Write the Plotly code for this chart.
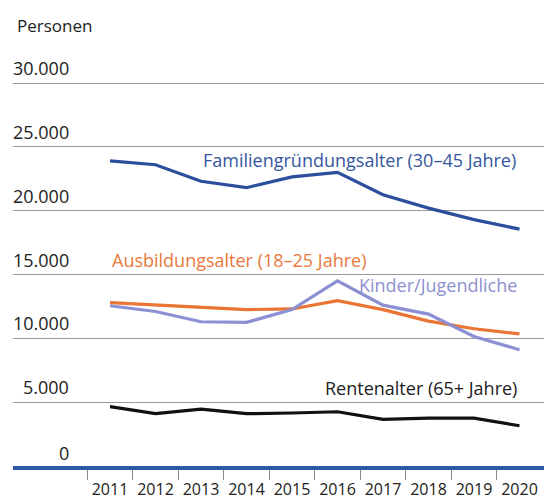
import plotly.graph_objects as go

years = [2011, 2012, 2013, 2014, 2015, 2016, 2017, 2018, 2019, 2020]
familien = [23900, 23600, 22300, 21800, 22650, 23000, 21250, 20200, 19300, 18550]
ausbildung = [12800, 12600, 12400, 12250, 12300, 12950, 12250, 11350, 10750, 10350]
kinder = [12550, 12100, 11300, 11250, 12250, 14500, 12600, 11900, 10150, 9100]
rente = [4650, 4100, 4450, 4100, 4150, 4250, 3650, 3750, 3750, 3150]

ytick_vals = [0, 5000, 10000, 15000, 20000, 25000, 30000]
ytick_text = ["0", "5.000", "10.000", "15.000", "20.000", "25.000", "30.000"]
xtick_text = [str(y) for y in years]
minor_ticks = [y - 0.5 for y in years]

series = [
    ("Familiengründungsalter (30–45 Jahre)", familien, "#2b4f9c"),
    ("Ausbildungsalter (18–25 Jahre)", ausbildung, "#ea7433"),
    ("Kinder/Jugendliche", kinder, "#8a90d2"),
    ("Rentenalter (65+ Jahre)", rente, "#111111"),
]

FONT = "Open Sans"
W, H = 544, 501
L, R, T, B = 13, 0, 70, 35
pw, ph = W - L - R, H - T - B

def px(x):
    return (x - L) / pw

def py(y):
    return (H - B - y) / ph

fig = go.Figure()
for name, vals, col in series:
    fig.add_trace(go.Scatter(x=years, y=vals, mode="lines", name=name,
                             line=dict(color=col, width=3.2), hoverinfo="skip"))

annotations = []
annotations.append(dict(text="Personen", x=px(15), y=py(26), xref="paper", yref="paper",
                        xanchor="left", yanchor="middle", showarrow=False,
                        font=dict(family=FONT, size=17, color="#222")))
for v, t in zip(ytick_vals, ytick_text):
    annotations.append(dict(text=t, x=px(71), y=v, xref="paper", yref="y",
                            xanchor="right", yanchor="middle", yshift=13 if v == 0 else 15,
                            showarrow=False, font=dict(family=FONT, size=18, color="#222")))

labels = [
    ("Familiengründungsalter (30–45 Jahre)", px(518), py(160), "right", "#3456a0"),
    ("Ausbildungsalter (18–25 Jahre)", px(110), py(260), "left", "#e9793c"),
    ("Kinder/Jugendliche", px(519), py(285), "right", "#8d91cf"),
    ("Rentenalter (65+ Jahre)", px(519), py(388), "right", "#222222"),
]
for t, x, y, anc, col in labels:
    annotations.append(dict(text=t, x=x, y=y, xref="paper", yref="paper", xanchor=anc,
                            yanchor="middle", showarrow=False,
                            font=dict(family=FONT, size=18, color=col)))

x0 = 2011 - (110 - L) / 45.5
x1 = 2020 + (W - R - 519.5) / 45.5
y1 = 30000 + (83 - T) / 63.83 * 5000

fig.update_layout(
    width=W, height=H, margin=dict(l=L, r=R, t=T, b=B, autoexpand=False),
    paper_bgcolor="white", plot_bgcolor="white", showlegend=False,
    annotations=annotations,
    xaxis=dict(range=[x0, x1], tickmode="array", tickvals=years, ticktext=xtick_text,
               ticks="outside", ticklen=6, tickcolor="rgba(0,0,0,0)", automargin=False,
               tickfont=dict(family=FONT, size=16, color="#222"),
               showgrid=False, zeroline=False, showline=True, linecolor="#2d5aa8", linewidth=3.5,
               minor=dict(tickmode="array", tickvals=minor_ticks, ticks="outside", ticklen=10,
                          tickcolor="#8a8a8a", tickwidth=1, showgrid=False)),
    yaxis=dict(range=[0, y1], tickmode="array", tickvals=ytick_vals, showticklabels=False,
               automargin=False,
               showgrid=True, gridcolor="#9a9a9a", gridwidth=1, zeroline=False, ticks=""),
)
fig.write_html("out.html", config={"displayModeBar": False},
               post_script="document.body.style.margin='0';document.body.style.overflow='hidden';")
